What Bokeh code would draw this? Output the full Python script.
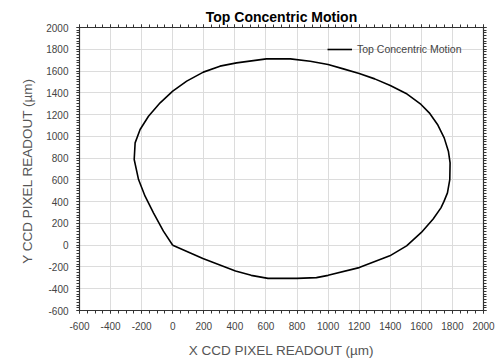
from bokeh.plotting import figure
from bokeh.models import LinearAxis, Range1d, FixedTicker, Legend, LegendItem
from bokeh.embed import file_html
from bokeh.resources import INLINE

# Data (x, y in micrometres)
x_um = [0, 194, 404, 505, 613, 800, 925, 1000, 1200, 1397, 1505, 1600, 1676, 1726,
        1745, 1768, 1783, 1785, 1774, 1747, 1704, 1651, 1598, 1502, 1400, 1300,
        1200, 1098, 1000, 885, 757, 603, 411, 304, 197, 90, 0, -81, -156, -210,
        -242, -248, -220, -178, -124, -60, 0]
y_um = [0, -123, -237, -277, -305, -305, -298, -277, -206, -98, -6, 117, 240, 343,
        400, 481, 603, 757, 864, 986, 1109, 1216, 1293, 1394, 1467, 1528,
        1577, 1620, 1660, 1690, 1712, 1712, 1675, 1645, 1590, 1507, 1415, 1308, 1185, 1063,
        940, 787, 603, 450, 297, 129, 0]

series_name = "Top Concentric Motion"
title_text = "Top Concentric Motion"
x_label = "X CCD PIXEL READOUT (\u00b5m)"
y_label = "Y CCD PIXEL READOUT  (\u00b5m)"
x_ticks = list(range(-600, 2001, 200))
y_ticks = list(range(-600, 2001, 200))
x_minor = list(range(-600, 2001, 50))
y_minor = list(range(-600, 2001, 25))

FONT = "Liberation Sans"

p = figure(width=495, height=360, output_backend="svg", toolbar_location=None,
           x_range=Range1d(-600, 2000), y_range=Range1d(-600, 2000),
           min_border_left=79, min_border_right=12, min_border_top=27, min_border_bottom=49)

p.title.text = title_text
p.title.align = "center"
p.title.text_font = FONT
p.title.text_font_size = "14px"
p.title.text_font_style = "bold"
p.title.text_color = "#000000"
p.title.standoff = 0

r = p.line(x_um, y_um, line_color="#000000", line_width=1.6)

p.outline_line_color = "#333333"
p.background_fill_color = "white"
p.border_fill_color = "white"

for g in (p.xgrid, p.ygrid):
    g.grid_line_color = "#dcdcdc"
    g.grid_line_width = 1
p.xgrid.ticker = FixedTicker(ticks=x_ticks)
p.ygrid.ticker = FixedTicker(ticks=y_ticks)

def style_axis(ax, ticks, minor, show_labels=True):
    ax.ticker = FixedTicker(ticks=ticks, minor_ticks=minor)
    ax.axis_line_color = "#333333"
    ax.axis_line_width = 1.2
    ax.major_tick_line_color = "#333333"
    ax.minor_tick_line_color = "#333333"
    ax.major_tick_in = 0
    ax.major_tick_out = 3
    ax.minor_tick_in = 0
    ax.minor_tick_out = 3
    ax.major_label_text_font = FONT
    ax.major_label_text_font_size = "10px"
    ax.major_label_text_color = "#444444"
    ax.axis_label_text_font = FONT
    ax.axis_label_text_font_size = "13.5px"
    ax.axis_label_text_font_style = "normal"
    ax.axis_label_text_color = "#555555"
    if show_labels:
        ax.major_label_overrides = {t: str(t) for t in ticks}
    else:
        ax.major_label_text_color = None
        ax.major_label_text_font_size = "1px"
        ax.major_label_standoff = 0

style_axis(p.xaxis[0], x_ticks, x_minor)
style_axis(p.yaxis[0], y_ticks, y_minor)
p.xaxis[0].axis_label = x_label
p.yaxis[0].axis_label = y_label
p.xaxis[0].major_label_standoff = 8
p.yaxis[0].major_label_standoff = 8
p.xaxis[0].axis_label_standoff = 10
p.yaxis[0].axis_label_standoff = 8

top = LinearAxis()
style_axis(top, x_ticks, x_minor, show_labels=False)
p.add_layout(top, "above")
right = LinearAxis()
style_axis(right, y_ticks, y_minor, show_labels=False)
p.add_layout(right, "right")

legend = Legend(items=[LegendItem(label=series_name, renderers=[r])],
                location=(248, 254), border_line_color=None,
                background_fill_alpha=0, padding=0, margin=0,
                glyph_width=25, glyph_height=14, label_height=14,
                label_standoff=5, label_text_font=FONT,
                label_text_font_size="10.5px", label_text_color="#444444")
p.add_layout(legend, "center")

open("out.html", "w").write(file_html(p, INLINE))
